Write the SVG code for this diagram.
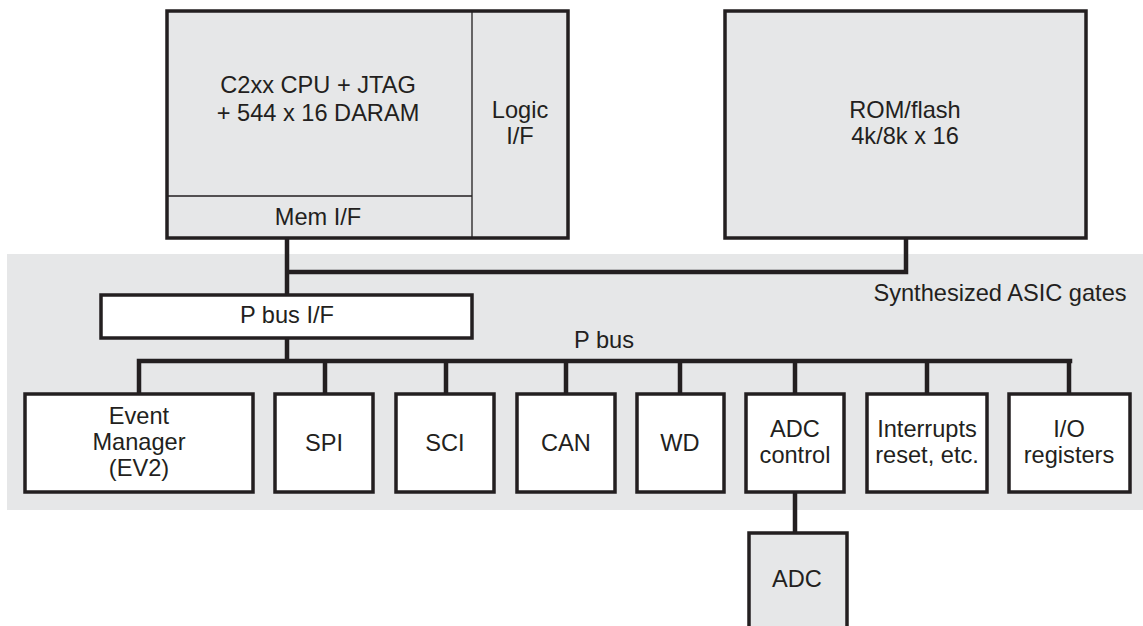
<svg xmlns="http://www.w3.org/2000/svg" width="1143" height="626" viewBox="0 0 1143 626">
<style>
text{font-family:"Liberation Sans",Arial,sans-serif;font-size:23.6px;fill:#231f20;text-anchor:middle}
.g{fill:#e6e7e8;stroke:#231f20;stroke-width:3.5}
.w{fill:#ffffff;stroke:#231f20;stroke-width:3.5}
.thin{stroke:#231f20;stroke-width:1.3;fill:none}
.c{stroke:#231f20;stroke-width:4.5;fill:none;stroke-linecap:square}
</style>
<rect id="asic-region" x="7" y="254" width="1136" height="256" fill="#e6e7e8"/>
<text x="1000" y="301">Synthesized ASIC gates</text>
<g id="connectors">
<path class="c" d="M287 240 V295 M287 272 H906 V240 M287 338 V361 M139 361 H1070 M139 361 V393 M325 361 V393 M446 361 V393 M566 361 V393 M680 361 V393 M795 361 V393 M927 361 V393 M1069 361 V393 M795 493 V532"/>
</g>
<g id="cpu">
<rect class="g" x="167" y="11" width="401" height="227"/>
<path class="thin" d="M472 11 V238 M167 196 H472"/>
<text x="318" y="93">C2xx CPU + JTAG</text>
<text x="318" y="121">+ 544 x 16 DARAM</text>
<text x="318" y="225">Mem I/F</text>
<text x="520" y="118">Logic</text>
<text x="520" y="144">I/F</text>
</g>
<g id="rom">
<rect class="g" x="725" y="11" width="361" height="227"/>
<text x="905" y="118">ROM/flash</text>
<text x="905" y="144">4k/8k x 16</text>
</g>
<g id="pbusif">
<rect class="w" x="101" y="295" width="371" height="43"/>
<text x="287" y="323">P bus I/F</text>
</g>
<text id="pbus-label" x="604" y="348">P bus</text>
<g id="ev">
<rect class="w" x="25" y="394" width="228" height="98"/>
<text x="139" y="424">Event</text>
<text x="139" y="450">Manager</text>
<text x="139" y="476">(EV2)</text>
</g>
<g id="spi">
<rect class="w" x="275" y="394" width="98" height="98"/>
<text x="324" y="451">SPI</text>
</g>
<g id="sci">
<rect class="w" x="396" y="394" width="98" height="98"/>
<text x="445" y="451">SCI</text>
</g>
<g id="can">
<rect class="w" x="517" y="394" width="98" height="98"/>
<text x="566" y="451">CAN</text>
</g>
<g id="wd">
<rect class="w" x="637" y="394" width="87" height="98"/>
<text x="680" y="451">WD</text>
</g>
<g id="adcctl">
<rect class="w" x="746" y="394" width="98" height="98"/>
<text x="795" y="437">ADC</text>
<text x="795" y="463">control</text>
</g>
<g id="intr">
<rect class="w" x="867" y="394" width="120" height="98"/>
<text x="927" y="437">Interrupts</text>
<text x="927" y="463">reset, etc.</text>
</g>
<g id="io">
<rect class="w" x="1009" y="394" width="121" height="98"/>
<text x="1069" y="437">I/O</text>
<text x="1069" y="463">registers</text>
</g>
<g id="adc">
<rect class="g" x="749" y="533" width="98" height="110"/>
<text x="797" y="587">ADC</text>
</g>
</svg>
